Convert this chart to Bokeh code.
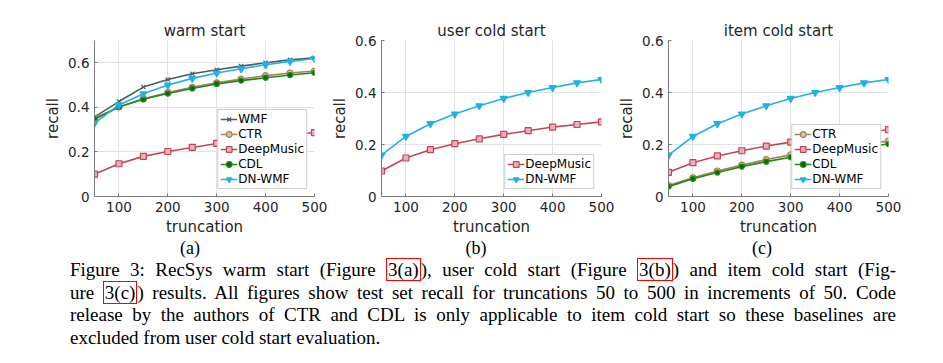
from bokeh.plotting import figure
from bokeh.layouts import row, column
from bokeh.models import Div, Spacer, Legend, LegendItem, FixedTicker
from bokeh.embed import file_html
from bokeh.resources import INLINE

truncation = [50, 100, 150, 200, 250, 300, 350, 400, 450, 500]

# warm start
warm_wmf = [0.357, 0.426, 0.491, 0.525, 0.551, 0.569, 0.585, 0.600, 0.613, 0.622]
warm_ctr = [0.351, 0.402, 0.439, 0.466, 0.490, 0.510, 0.527, 0.542, 0.554, 0.563]
warm_deepmusic = [0.100, 0.147, 0.180, 0.202, 0.220, 0.238, 0.253, 0.266, 0.277, 0.287]
warm_cdl = [0.347, 0.402, 0.436, 0.462, 0.485, 0.505, 0.520, 0.533, 0.545, 0.555]
warm_dnwmf = [0.329, 0.411, 0.461, 0.500, 0.530, 0.554, 0.573, 0.591, 0.606, 0.619]

# user cold start
user_deepmusic = [0.098, 0.148, 0.180, 0.203, 0.222, 0.239, 0.253, 0.267, 0.277, 0.287]
user_dnwmf = [0.159, 0.231, 0.280, 0.317, 0.349, 0.377, 0.400, 0.419, 0.437, 0.450]

# item cold start
item_ctr = [0.042, 0.072, 0.098, 0.121, 0.142, 0.160, 0.175, 0.189, 0.201, 0.213]
item_deepmusic = [0.093, 0.130, 0.156, 0.176, 0.194, 0.209, 0.222, 0.235, 0.246, 0.257]
item_cdl = [0.038, 0.068, 0.092, 0.115, 0.134, 0.151, 0.165, 0.178, 0.190, 0.202]
item_dnwmf = [0.159, 0.231, 0.280, 0.317, 0.349, 0.377, 0.400, 0.419, 0.437, 0.450]

x_ticks = [100, 200, 300, 400, 500]
y_ticks = [0, 0.2, 0.4, 0.6]
y_tick_labels = {0: "0", 0.2: "0.2", 0.4: "0.4", 0.6: "0.6"}
sub_labels = ["(a)", "(b)", "(c)"]

STYLE = {
    "WMF": dict(color="#4f5d5d", marker="x", size=6, fill="#4f5d5d"),
    "CTR": dict(color="#a8804f", marker="circle", size=6, fill="#d9c3a5"),
    "DeepMusic": dict(color="#c4455a", marker="square", size=6, fill="#e8b0b8"),
    "CDL": dict(color="#1f8a1f", marker="circle", size=5, fill="#0a6a0a"),
    "DN-WMF": dict(color="#1fb2e8", marker="inverted_triangle", size=7, fill="#1fb2e8"),
}

FONT = "DejaVu Sans"
TXT = "#262626"


def make_panel(title, ymax, series):
    p = figure(frame_width=220, frame_height=156, x_range=(50, 500), y_range=(0, ymax),
               output_backend="svg", toolbar_location=None,
               min_border_left=52, min_border_right=14, min_border_top=40,
               min_border_bottom=43)
    p.outline_line_color = None
    p.title.text = title
    p.title.align = "center"
    p.title.text_font = FONT
    p.title.text_font_style = "normal"
    p.title.text_font_size = "15px"
    p.title.text_color = TXT
    p.title.standoff = 2
    p.xaxis.ticker = FixedTicker(ticks=x_ticks)
    p.yaxis.ticker = FixedTicker(ticks=y_ticks)
    p.yaxis.major_label_overrides = y_tick_labels
    p.xaxis.axis_label = "truncation"
    p.yaxis.axis_label = "recall"
    for ax in (p.xaxis, p.yaxis):
        ax.axis_label_text_font = FONT
        ax.axis_label_text_font_style = "normal"
        ax.axis_label_text_font_size = "15px"
        ax.axis_label_text_color = TXT
        ax.major_label_text_font = FONT
        ax.major_label_text_font_size = "13.5px"
        ax.major_label_text_color = TXT
        ax.axis_line_color = "#7a7a7a"
        ax.major_tick_line_color = "#7a7a7a"
        ax.major_tick_in = 3
        ax.major_tick_out = 0
        ax.minor_tick_line_color = None
        ax.axis_label_standoff = 3
        ax.major_label_standoff = 5
    p.grid.grid_line_color = "#e3e3e3"
    p.grid.grid_line_width = 1
    items = []
    for name, ys in series:
        st = STYLE[name]
        r1 = p.line(truncation, ys, line_color=st["color"], line_width=1.6)
        r2 = p.scatter(truncation, ys, marker=st["marker"], size=st["size"],
                       line_color=st["color"], fill_color=st["fill"], line_width=1.2)
        items.append(LegendItem(label=name, renderers=[r1, r2]))
    leg = Legend(items=items, location="bottom_right", margin=7,
                 label_text_font=FONT, label_text_font_size="12px",
                 label_text_color="#000000", glyph_width=17, glyph_height=14,
                 label_height=14, label_standoff=1, spacing=1, padding=2,
                 border_line_color="#a0a0a0", border_line_width=1,
                 background_fill_color="white", background_fill_alpha=1.0)
    p.add_layout(leg, "center")
    return p


pa = make_panel("warm start", 0.7, [("WMF", warm_wmf), ("CTR", warm_ctr),
                                    ("DeepMusic", warm_deepmusic), ("CDL", warm_cdl),
                                    ("DN-WMF", warm_dnwmf)])
pb = make_panel("user cold start", 0.6, [("DeepMusic", user_deepmusic),
                                         ("DN-WMF", user_dnwmf)])
pc = make_panel("item cold start", 0.6, [("CTR", item_ctr), ("DeepMusic", item_deepmusic),
                                         ("CDL", item_cdl), ("DN-WMF", item_dnwmf)])

box = "border:1.5px solid #ff0000;padding:0 1px;"
line_style = "text-align:justify;text-align-last:justify;"
sub_x = [190, 476, 762]
subs = "".join(
    f"<div style='position:absolute;left:{x - 30}px;top:0px;width:60px;text-align:center;"
    f"font-size:18px;line-height:19px;'>{s}</div>"
    for x, s in zip(sub_x, sub_labels)
)
caption_html = (
    "<div style=\"position:relative;width:930px;height:118px;font-family:'Liberation Serif';color:#000;\">"
    + subs +
    "<div style='position:absolute;left:70px;top:20px;width:826px;font-size:19px;line-height:22.7px;'>"
    f"<div style='{line_style}'>Figure 3: RecSys warm start (Figure <span style='{box}'>3(a)</span>), user cold start (Figure <span style='{box}'>3(b)</span>) and item cold start (Fig-</div>"
    f"<div style='{line_style}'>ure <span style='{box}'>3(c)</span>) results. All figures show test set recall for truncations 50 to 500 in increments of 50. Code</div>"
    f"<div style='{line_style}'>release by the authors of CTR and CDL is only applicable to item cold start so these baselines are</div>"
    "<div>excluded from user cold start evaluation.</div>"
    "</div></div>"
)
caption = Div(text=caption_html, width=930, height=118, margin=(0, 0, 0, 0))

layout = column(row(Spacer(width=41, height=10), pa, pb, pc), caption)

open("out.html", "w").write(file_html(layout, INLINE))
